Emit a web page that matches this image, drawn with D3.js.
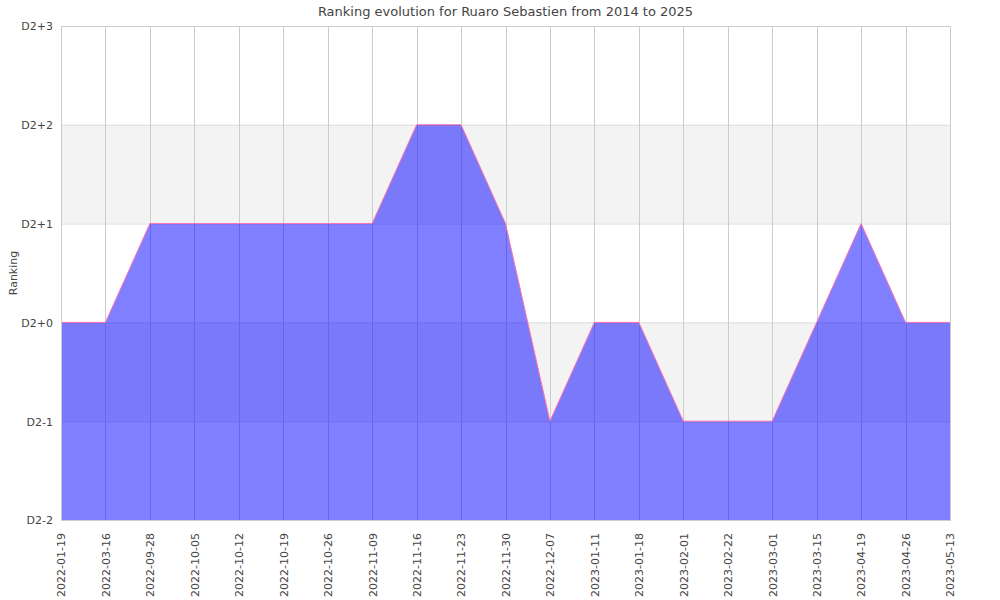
<!DOCTYPE html>
<html>
<head>
<meta charset="utf-8">
<script src="https://cdn.jsdelivr.net/npm/d3@7"></script>
<style>
	body { margin: 0; background: #fff; }
	text { font-family: "DejaVu Sans", sans-serif; fill: #444; }
</style>
</head>
<body>
<svg id="chart"></svg>
<script>
// data
const dates = ["2022-01-19", "2022-03-16", "2022-09-28", "2022-10-05", "2022-10-12", "2022-10-19",
	"2022-10-26", "2022-11-09", "2022-11-16", "2022-11-23", "2022-11-30", "2022-12-07",
	"2023-01-11", "2023-01-18", "2023-02-01", "2023-02-22", "2023-03-01", "2023-03-15",
	"2023-04-19", "2023-04-26", "2023-05-13"];
const ranking = [0, 0, 1, 1, 1, 1, 1, 1, 2, 2, 1, -1, 0, 0, -1, -1, -1, 0, 1, 0, 0];
const rankTicks = [-2, -1, 0, 1, 2, 3];
const rankLabels = ["D2-2", "D2-1", "D2+0", "D2+1", "D2+2", "D2+3"];
const bands = [[-1, 0], [1, 2]];

const width = 1000, height = 600;
const margin = { top: 26, right: 50, bottom: 80, left: 61 };

const svg = d3.select("#chart")
	.attr("width", width)
	.attr("height", height);

const x = d3.scalePoint().domain(dates).range([margin.left, width - margin.right]);
const y = d3.scaleLinear().domain([-2, 3]).range([height - margin.bottom, margin.top]);

// shaded bands
svg.append("g").selectAll("rect")
	.data(bands)
	.enter().append("rect")
	.attr("x", margin.left)
	.attr("width", width - margin.right - margin.left)
	.attr("y", d => y(d[1]))
	.attr("height", d => y(d[0]) - y(d[1]))
	.attr("fill", "#f3f3f3");

// grid
svg.append("g").selectAll("line")
	.data(rankTicks)
	.enter().append("line")
	.attr("x1", margin.left).attr("x2", width - margin.right)
	.attr("y1", d => y(d) + 0.5).attr("y2", d => y(d) + 0.5)
	.attr("stroke", "#ddd");
svg.append("g").selectAll("line")
	.data(dates)
	.enter().append("line")
	.attr("x1", d => Math.round(x(d)) + 0.5).attr("x2", d => Math.round(x(d)) + 0.5)
	.attr("y1", margin.top).attr("y2", height - margin.bottom)
	.attr("stroke", "#ccc");

// area + line
const area = d3.area()
	.x(d => x(d.date))
	.y0(y(-2))
	.y1(d => y(d.rank));
const line = d3.line()
	.x(d => x(d.date))
	.y(d => y(d.rank));
const points = dates.map((d, i) => ({ date: d, rank: ranking[i] }));

svg.append("path")
	.datum(points)
	.attr("d", area)
	.attr("fill", "rgba(0,0,255,0.5)");
svg.append("path")
	.datum(points)
	.attr("d", line)
	.attr("fill", "none")
	.attr("stroke", "#ff6fb0")
	.attr("stroke-width", 1);

// frame
svg.append("rect")
	.attr("x", margin.left + 0.5).attr("y", margin.top + 0.5)
	.attr("width", width - margin.right - margin.left)
	.attr("height", height - margin.bottom - margin.top)
	.attr("fill", "none")
	.attr("stroke", "#ccc");

// axes
const yAxis = svg.append("g")
	.attr("transform", "translate(" + margin.left + ",0)")
	.call(d3.axisLeft(y).tickValues(rankTicks).tickFormat((d, i) => rankLabels[i]).tickSize(0).tickPadding(8));
yAxis.select(".domain").remove();
yAxis.selectAll("text").style("font-size", "11px").attr("dy", "0.35em");

const xAxis = svg.append("g")
	.attr("transform", "translate(0," + (height - margin.bottom) + ")")
	.call(d3.axisBottom(x).tickSize(0).tickPadding(0));
xAxis.select(".domain").remove();
xAxis.selectAll("text")
	.style("font-size", "11px")
	.attr("text-anchor", "end")
	.attr("transform", "rotate(-90)")
	.attr("x", -13)
	.attr("y", 0)
	.attr("dy", "0.35em");

// titles
svg.append("text")
	.attr("x", (margin.left + width - margin.right) / 2)
	.attr("y", 16)
	.attr("text-anchor", "middle")
	.style("font-size", "13px")
	.text("Ranking evolution for Ruaro Sebastien from 2014 to 2025");
svg.append("text")
	.attr("transform", "translate(17," + (margin.top + height - margin.bottom) / 2 + ") rotate(-90)")
	.attr("text-anchor", "middle")
	.style("font-size", "11px")
	.text("Ranking");
</script>
</body>
</html>
